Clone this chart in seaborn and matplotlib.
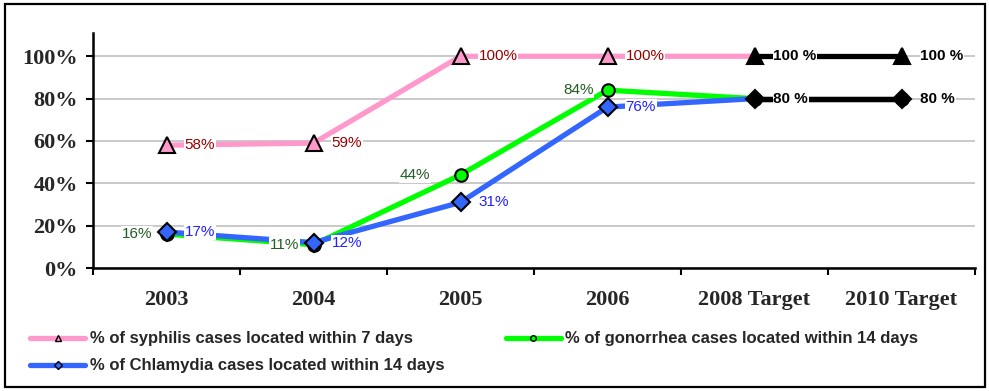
import numpy as np
import pandas as pd
import seaborn as sns
import matplotlib
matplotlib.use("Agg")
import matplotlib.pyplot as plt
from matplotlib.lines import Line2D
from matplotlib.patches import Rectangle
from matplotlib.ticker import FixedLocator, FuncFormatter

# data (percent)
categories = ["2003", "2004", "2005", "2006", "2008 Target", "2010 Target"]
syphilis = [58, 59, 100, 100, 100, 100]
gonorrhea = [16, 11, 44, 84, 80, 80]
chlamydia = [17, 12, 31, 76, 80, 80]
legend_labels = ["% of syphilis cases located within 7 days",
                 "% of gonorrhea cases located within 14 days",
                 "% of Chlamydia cases located within 14 days"]

sns.set_theme(style="white")
plt.rcParams['font.family'] = ['Liberation Sans', 'DejaVu Sans']

pink = "#FF99CC"
green = "#00FF00"
blue = "#3366FF"
lw = 3.8

fig = plt.figure(figsize=(9.89, 3.91), dpi=100)
ax = fig.add_axes([93/989, 1-268/391, (975-93)/989, (268-33)/391])

x = np.arange(len(categories))
df = pd.DataFrame({"x": x, "syph": syphilis, "gono": gonorrhea, "chla": chlamydia})
actual = df[df.x <= 4]
target = df[df.x >= 4]

# col, line colour, marker, marker size, label colour, label side, offset px
series = [("syph", pink, "^", 11, "#990000", "left", 18),
          ("gono", green, "o", 9, "#235E23", "right", -14),
          ("chla", blue, "D", 9.5, "#2222FF", "left", 18)]

for i, (col, c, m, ms, _, _, _) in enumerate(series):
    sns.lineplot(data=actual, x="x", y=col, color=c, lw=lw, marker=m, markersize=ms,
                 markerfacecolor=c, markeredgecolor="black", markeredgewidth=1.5,
                 markevery=[0, 1, 2, 3], ax=ax, zorder=3 + i, solid_capstyle="butt")
    sns.lineplot(data=target, x="x", y=col, color="black", lw=lw, marker=m, markersize=ms,
                 markerfacecolor="black", markeredgecolor="black", markeredgewidth=1.5,
                 ax=ax, zorder=3 + i, solid_capstyle="butt")

# data labels
for col, c, m, ms, tc, ha, dx in series:
    vals = df[col].tolist()
    for xi in range(4):
        off = dx
        if col == "gono" and xi == 2:
            off = -30
        ax.annotate(f"{vals[xi]}%", (xi, vals[xi]), xytext=(off / 1.39, 0),
                    textcoords="offset points", ha=ha, va="center", fontsize=11,
                    color=tc, zorder=10,
                    bbox=dict(boxstyle="square,pad=0.05", fc="white", ec="none"))

for val in [syphilis[4], gonorrhea[4]]:
    for xi in [4, 5]:
        ax.annotate(f"{val} %", (xi, val), xytext=(19 / 1.39, 0),
                    textcoords="offset points", ha="left", va="center", fontsize=11,
                    fontweight="bold", color="black", zorder=10,
                    bbox=dict(boxstyle="square,pad=0.05", fc="white", ec="none"))

# axes styling
ax.set_xlim(-0.5, 5.5)
ax.set_ylim(0, 111)
ax.set_xlabel("")
ax.set_ylabel("")
ax.set_xticks(x)
ax.set_xticklabels(categories, fontsize=16, fontweight="bold", family="Liberation Serif")
ax.xaxis.set_minor_locator(FixedLocator(np.arange(-0.5, 6, 1)))
ax.tick_params(axis="x", which="major", length=0, pad=16)
ax.tick_params(axis="x", which="minor", length=5, width=1.5, color="black", bottom=True)
ax.set_yticks(np.arange(0, 101, 20))
ax.yaxis.set_major_formatter(FuncFormatter(lambda v, p: f"{v:.0f}%"))
for t in ax.get_yticklabels():
    t.set_fontsize(16)
    t.set_fontweight("bold")
    t.set_family("Liberation Serif")
ax.tick_params(axis="y", length=5, width=1.5, color="black", left=True, pad=6)
ax.yaxis.grid(True, color="#C0C0C0", lw=1.2)
ax.set_axisbelow(True)
sns.despine(ax=ax)
for s in ["left", "bottom"]:
    ax.spines[s].set_color("black")
    ax.spines[s].set_linewidth(1.8)
    ax.spines[s].set_zorder(12)
ax.set_facecolor("white")

# legend
handles = [Line2D([], [], color=pink, lw=lw, marker="^", markersize=5,
                  markerfacecolor=pink, markeredgecolor="black"),
           Line2D([], [], color=blue, lw=lw, marker="D", markersize=4,
                  markerfacecolor=blue, markeredgecolor="black"),
           Line2D([], [], color=green, lw=lw, marker="o", markersize=4,
                  markerfacecolor=green, markeredgecolor="black")]
labels = [legend_labels[0], legend_labels[2], legend_labels[1]]
fig.legend(handles, labels, loc="upper left", bbox_to_anchor=(22/989, 1-323/391),
           ncol=2, frameon=False, borderpad=0, handlelength=3.3, handletextpad=0.25,
           columnspacing=3.7, labelspacing=0.72,
           prop={"family": "Liberation Sans", "weight": "bold", "size": 12})

# outer border
fig.patches.append(Rectangle((5/989, 4/391), 980/989, 383/391, transform=fig.transFigure,
                             fill=False, ec="black", lw=1.6))

fig.savefig("out.png", dpi=100)
